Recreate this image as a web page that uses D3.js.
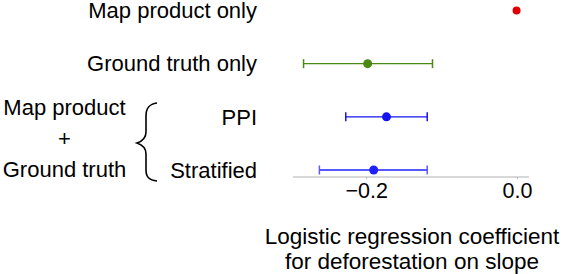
<!DOCTYPE html>
<html><head><meta charset="utf-8">
<script src="https://cdn.jsdelivr.net/npm/d3@7"></script>
<style>body{margin:0;background:#fff}svg{display:block}text{font-family:"Liberation Sans",Arial,sans-serif;fill:#000}</style>
</head><body>
<svg id="c" width="566" height="274"></svg>
<script>
const rows = ["Map product only","Ground truth only","PPI","Stratified"];
const estimates = [-0.0005, -0.198, -0.173, -0.190];
const lower = [null, -0.283, -0.227, -0.262];
const upper = [null, -0.112, -0.119, -0.119];
const colors = ["#e00000","#4a8a12","#1414f0","#2020ff"];
const whiskerColors = ["#e00000","#4a8a12","#1414f0","#5a5aff"];
const ticks = [-0.2, 0.0];
const titleLines = ["Logistic regression coefficient","for deforestation on slope"];
const groupLines = ["Map product","+","Ground truth"];

const svg = d3.select("#c");
const x = d3.scaleLinear().domain([-0.297, 0.016]).range([293, 529]);
const y = d3.scalePoint().domain(rows).range([10.5, 170]);

// axis
const ax = svg.append("g").attr("transform","translate(0,177)")
  .call(d3.axisBottom(x).tickValues(ticks).tickFormat(d=>d3.format(".1f")(d).replace("-","\u2212")).tickSize(2).tickPadding(4));
ax.select(".domain").attr("stroke","#d8d8d8").attr("stroke-width",2).attr("d",`M293,0H529`);
ax.selectAll(".tick line").attr("stroke","#bbb");
ax.selectAll(".tick text").attr("font-size",21.5).attr("font-family","Liberation Sans, Arial, sans-serif").attr("fill","#000");

// error bars
rows.forEach((r,i)=>{
  const g = svg.append("g");
  if(lower[i]!==null){
    g.append("line").attr("x1",x(lower[i])).attr("x2",x(upper[i])).attr("y1",y(r)).attr("y2",y(r)).attr("stroke",colors[i]).attr("stroke-width",1.3);
    [lower[i],upper[i]].forEach(v=>{
      g.append("line").attr("x1",x(v)).attr("x2",x(v)).attr("y1",y(r)-4.5).attr("y2",y(r)+4.5).attr("stroke",whiskerColors[i]).attr("stroke-width",1.5);
    });
  }
  g.append("circle").attr("cx",x(estimates[i])).attr("cy",y(r)).attr("r", i===0?4:4.5).attr("fill",colors[i]);
});

// row labels
svg.selectAll("text.row").data(rows).join("text").attr("class","row")
  .attr("x",257).attr("y",d=>y(d)).attr("dy","0.35em").attr("text-anchor","end").attr("font-size",22).text(d=>d);

// group labels
const gy = [107.5, 138.5, 169];
groupLines.forEach((t,i)=>{
  svg.append("text").attr("x",64.5).attr("y",gy[i]).attr("dy","0.35em").attr("text-anchor","middle").attr("font-size",22).text(t);
});
// brace
svg.append("path").attr("fill","none").attr("stroke","#000").attr("stroke-width",1.6)
  .attr("d","M157,103 C149,104 146,108 146,116 L146,132 C146,138 143,141 137,143 C143,145 146,148 146,154 L146,170 C146,177 149,180 157,181");

// axis title
titleLines.forEach((t,i)=>{
  svg.append("text").attr("x",412).attr("y",236+i*25).attr("dy","0.35em").attr("text-anchor","middle").attr("font-size",22.5).text(t);
});
</script>
</body></html>
